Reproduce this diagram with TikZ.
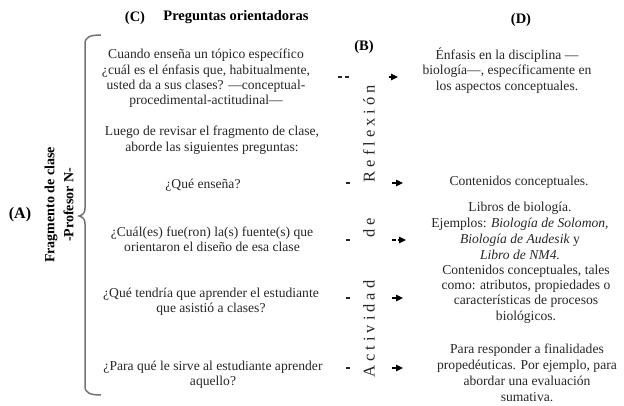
\documentclass[tikz,border=0pt]{standalone}
\usepackage{fontspec}
\setmainfont{Liberation Serif}
\usetikzlibrary{arrows.meta}
\definecolor{tcol}{gray}{0.15}
\newcommand{\ls}{\kern4pt}
\begin{document}
\begin{tikzpicture}[x=1pt,y=-1pt,
  txt/.style={font=\fontsize{13.6}{15.4}\selectfont, text=tcol, align=center, inner sep=0pt},
  hdr/.style={font=\fontsize{14.5}{16}\selectfont\bfseries, text=black, inner sep=0pt},
  vert/.style={font=\fontsize{16.5}{18}\selectfont, text=tcol, rotate=90, inner sep=0pt},
  dashmark/.style={line width=1.6pt, draw=tcol},
  arr/.style={line width=1.2pt, -{Triangle[length=7pt,width=6.5pt]}, draw=black},
  bracecol/.style={line width=1.5pt, draw=black!55}
]
\useasboundingbox (0,0) rectangle (624,406);

% headers
\node[hdr] (hC) at (135,18) {(C)};
\node[hdr] (hPO) at (236,17) {Preguntas orientadoras};
\node[hdr] (hB) at (364,47) {(B)};
\node[hdr] (hD) at (521,20) {(D)};
\node[hdr, font=\fontsize{16}{17}\selectfont\bfseries] (hA) at (20,215) {(A)};
\node[hdr, rotate=90, align=center, font=\fontsize{14}{19}\selectfont\bfseries] (frag) at (59,205) {Fragmento de clase\\-Profesor N-};

% brace
\draw[bracecol] (101,35) .. controls (90,35) and (85,37) .. (85,44) -- (85,208)
  .. controls (85,213) and (83,215) .. (79,216)
  .. controls (83,217) and (85,219) .. (85,224) -- (85,386)
  .. controls (85,393) and (90,395) .. (101,395);

% column C
\node[txt] (c1) at (206,78.5) {Cuando enseña un tópico específico\\¿cuál es el énfasis que, habitualmente,\\usted da a sus clases? —conceptual-\\procedimental-actitudinal—};
\node[txt] (c2) at (212,140) {Luego de revisar el fragmento de clase,\\aborde las siguientes preguntas:};
\node[txt] (c3) at (203,185) {¿Qué enseña?};
\node[txt] (c4) at (212,239.5) {¿Cuál(es) fue(ron) la(s) fuente(s) que\\orientaron el diseño de esa clase};
\node[txt] (c5) at (211,301.5) {¿Qué tendría que aprender el estudiante\\que asistió a clases?};
\node[txt] (c6) at (213,375) {¿Para qué le sirve al estudiante aprender\\aquello?};

% vertical text (B)
\node[vert] (vR) at (369,133.5) {R\ls e\ls f\ls l\ls e\ls x\ls i\ls ó\ls n};
\node[vert] (vd) at (369,227.5) {d\ls e};
\node[vert] (vA) at (369,329) {A\ls c\ls t\ls i\ls v\ls i\ls d\ls a\ls d};

% column D
\node[txt] (d1) at (507,70.5) {Énfasis en la disciplina —\\biología—, específicamente en\\los aspectos conceptuales.};
\node[txt] (d2) at (519,182) {Contenidos conceptuales.};
\node[txt, font=\fontsize{13.6}{16}\selectfont] (d3) at (520,231) {Libros de biología.\\Ejemplos: \textit{Biología de Solomon,}\\\textit{Biología de Audesik} y\\\textit{Libro de NM4.}};
\node[txt, font=\fontsize{13.6}{15.4}\selectfont] (d4) at (526,294) {Contenidos conceptuales, tales\\como: atributos, propiedades o\\características de procesos\\biológicos.};
\node[txt, font=\fontsize{13.6}{16}\selectfont] (d5) at (527,372.5) {Para responder a finalidades\\propedéuticas. Por ejemplo, para\\abordar una evaluación\\sumativa.};

% dashes
\coordinate (m1a) at (338,77); \coordinate (m1b) at (342,77);
\coordinate (m1c) at (345,77); \coordinate (m1d) at (349,77);
\draw[dashmark] (m1a) -- (m1b);
\draw[dashmark] (m1c) -- (m1d);
\foreach \yy/\nm in {183/m2, 240/m3, 298/m4, 368/m5}{
  \coordinate (\nm a) at (345.5,\yy);
  \coordinate (\nm b) at (349.5,\yy);
  \draw[dashmark] (\nm a) -- (\nm b);
}

% arrows
\coordinate (a1s) at (389,77); \coordinate (a1e) at (398,77);
\draw[arr] (a1s) -- (a1e);
\coordinate (a2s) at (392,183); \coordinate (a2e) at (403,183);
\draw[arr] (a2s) -- (a2e);
\coordinate (a3d) at (392,240); \coordinate (a3f) at (396,240);
\draw[dashmark, draw=black] (a3d) -- (a3f);
\coordinate (a3s) at (398,240); \coordinate (a3e) at (406,240);
\draw[arr] (a3s) -- (a3e);
\coordinate (a4s) at (392,298); \coordinate (a4e) at (403,298);
\draw[arr] (a4s) -- (a4e);
\coordinate (a5s) at (392,368); \coordinate (a5e) at (403,368);
\draw[arr] (a5s) -- (a5e);
\end{tikzpicture}
\end{document}
